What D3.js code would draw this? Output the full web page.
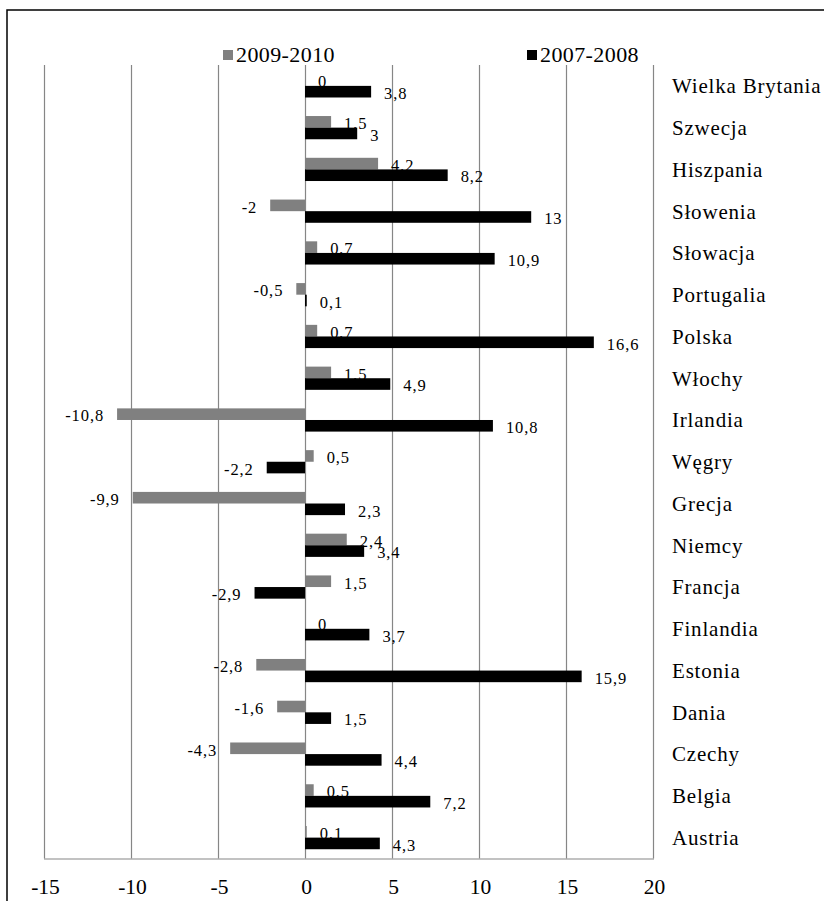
<!DOCTYPE html>
<html>
<head>
<meta charset="utf-8">
<script src="https://cdn.jsdelivr.net/npm/d3@7"></script>
<style>
html,body{margin:0;padding:0;background:#fff;}
svg{display:block;}
</style>
</head>
<body>
<svg id="chart" width="824" height="901"></svg>
<script>
const categories = ["Wielka Brytania","Szwecja","Hiszpania","Słowenia","Słowacja","Portugalia","Polska","Włochy","Irlandia","Węgry","Grecja","Niemcy","Francja","Finlandia","Estonia","Dania","Czechy","Belgia","Austria"];
const series2009 = [0,1.5,4.2,-2,0.7,-0.5,0.7,1.5,-10.8,0.5,-9.9,2.4,1.5,0,-2.8,-1.6,-4.3,0.5,0.1];
const series2007 = [3.8,3,8.2,13,10.9,0.1,16.6,4.9,10.8,-2.2,2.3,3.4,-2.9,3.7,15.9,1.5,4.4,7.2,4.3];
const seriesNames = ["2009-2010","2007-2008"];
const seriesColors = ["#808080","#000000"];
const xTicks = [-15,-10,-5,0,5,10,15,20];

(function(){
const FONT = "Liberation Serif";
const svg = d3.select("#chart");
const pLeft = 44, pRight = 653, pTop = 65, pBottom = 858.5;

// frame
svg.append("rect").attr("x",7).attr("y",10).attr("width",840).attr("height",920)
  .attr("fill","none").attr("stroke","#000").attr("stroke-width",1.5);

const x = d3.scaleLinear().domain([-15,20]).range([pLeft,pRight]);
const y = d3.scaleBand().domain(categories).range([pTop,pBottom]).paddingInner(0).paddingOuter(0);
const bh = y.bandwidth()*0.278;

// gridlines
svg.append("g").selectAll("line").data(xTicks).join("line")
  .attr("x1",d=>Math.round(x(d))+0.5).attr("x2",d=>Math.round(x(d))+0.5)
  .attr("y1",pTop).attr("y2",pBottom)
  .attr("stroke","#868686").attr("stroke-width",1.2);

// bottom axis line
svg.append("line").attr("x1",pLeft).attr("x2",pRight+1).attr("y1",pBottom+0.5).attr("y2",pBottom+0.5)
  .attr("stroke","#868686").attr("stroke-width",1.2);

// tick labels via axis
const axis = d3.axisBottom(x).tickValues(xTicks).tickSize(0).tickPadding(0).tickFormat(d=>String(d));
const ag = svg.append("g").attr("transform",`translate(0,${pBottom})`).call(axis);
ag.select(".domain").remove();
ag.attr("font-family",FONT).attr("font-size",21.5);
ag.selectAll("text").style("font-family",FONT).style("font-size","21.5px").attr("fill","#000")
  .attr("dy",null).attr("y",35.5).attr("dx",1);

const rows = categories.map((c,i)=>({c, a:series2009[i], b:series2007[i]}));
const fmt = v => String(v).replace(".",",");

function labels(g, key, offsetFn){
  g.selectAll("text").data(rows).join("text")
    .attr("x",d=> d[key]>=0 ? x(d[key])+13 : x(d[key])-13)
    .attr("y",d=> offsetFn(d)+1.5)
    .attr("dy","0.35em")
    .attr("text-anchor",d=> d[key]>=0 ? "start":"end")
    .style("font-family",FONT).style("font-size","16.5px").style("letter-spacing","0.9px")
    .text(d=>fmt(d[key]));
}

// gray bars
svg.append("g").selectAll("rect").data(rows).join("rect")
  .attr("x",d=>x(Math.min(0,d.a))).attr("width",d=>Math.abs(x(d.a)-x(0)))
  .attr("y",d=>y(d.c)+y.bandwidth()/2-bh).attr("height",bh).attr("fill",seriesColors[0]);
labels(svg.append("g"),"a",d=>y(d.c)+y.bandwidth()/2-bh/2);

// black bars
svg.append("g").selectAll("rect").data(rows).join("rect")
  .attr("x",d=>x(Math.min(0,d.b))).attr("width",d=>Math.abs(x(d.b)-x(0)))
  .attr("y",d=>y(d.c)+y.bandwidth()/2).attr("height",bh).attr("fill",seriesColors[1]);
labels(svg.append("g"),"b",d=>y(d.c)+y.bandwidth()/2+bh/2);

// category labels
svg.append("g").selectAll("text").data(categories).join("text")
  .attr("x",672).attr("y",d=>y(d)+y.bandwidth()/2).attr("dy","0.35em")
  .style("font-family",FONT).style("font-size","21px").style("letter-spacing","0.8px").text(d=>d);

// legend
const leg = [{n:seriesNames[0],c:seriesColors[0],x:223},{n:seriesNames[1],c:seriesColors[1],x:527}];
const lg = svg.append("g");
lg.selectAll("rect").data(leg).join("rect")
  .attr("x",d=>d.x).attr("y",50).attr("width",10).attr("height",10).attr("fill",d=>d.c);
lg.selectAll("text").data(leg).join("text")
  .attr("x",d=>d.x+13).attr("y",62)
  .style("font-family",FONT).style("font-size","22px").style("letter-spacing","0.4px").text(d=>d.n);
})();
</script>
</body>
</html>
